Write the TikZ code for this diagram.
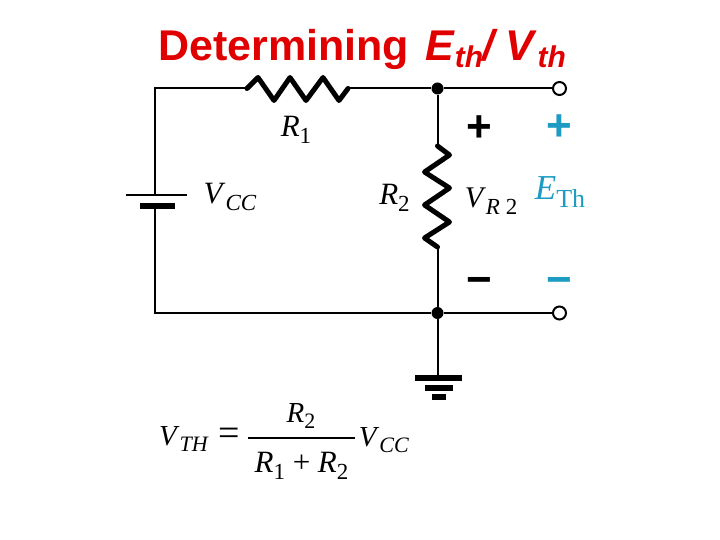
\documentclass[tikz,border=0pt]{standalone}
\usepackage{fontspec}
\usepackage{color}
\setmainfont{Liberation Serif}
\newfontfamily\titlefont{Liberation Sans}
\definecolor{titlered}{RGB}{224,0,0}
\definecolor{thblue}{RGB}{30,155,195}
\newcommand{\sized}[1]{\fontsize{#1}{#1}\selectfont}
\newcommand{\sym}[3]{\sized{#3}\textit{#1}\raisebox{-0.22em}{\sized{\numexpr#3*3/4\relax}#2}}
\tikzset{
 wire/.style={line width=2pt},
 zigzag/.style={line width=5pt,line join=round,line cap=round},
 plate/.style={line width=#1},
 junction/.style={circle,fill=black,inner sep=0pt,minimum size=12pt},
 terminal/.style={circle,draw,fill=white,line width=2pt,inner sep=0pt,minimum size=13pt},
 lbl/.style={inner sep=0pt},
 sign/.style={inner sep=0pt,font=\titlefont\bfseries\sized{44}}
}
\begin{document}
\begin{tikzpicture}[x=1pt,y=-1pt]
 \useasboundingbox (0,0) rectangle (720,540);
 % title
 \node[lbl,text=titlered,anchor=base west] (title) at (158,61) {\titlefont\bfseries\sized{43}Determining\kern4pt{} \textit{E}\raisebox{-0.16em}{\sized{30}\textit{th}}\kern-1pt\textit{/ V}\raisebox{-0.16em}{\sized{30}\textit{th}}};
 % corners and ends of the parts
 \coordinate (tl) at (155,88.5);
 \coordinate (bl) at (155,313);
 \coordinate (batp) at (155,195);
 \coordinate (batn) at (155,206);
 \coordinate (r1a) at (247,88.5);
 \coordinate (r1b) at (348,88.5);
 \coordinate (r2a) at (437.5,146);
 \coordinate (r2b) at (437.5,247);
 \coordinate (gnd) at (437.5,378);
 \coordinate (gnda) at (415,378);
 \coordinate (gndb) at (462,378);
 \coordinate (gndc) at (425,388);
 \coordinate (gndd) at (453,388);
 \coordinate (gnde) at (432,397);
 \coordinate (gndf) at (446,397);
 \coordinate (bata) at (126,195);
 \coordinate (batb) at (187,195);
 \coordinate (batc) at (140,206);
 \coordinate (batd) at (175,206);
 \node[junction] (top) at (437.5,88.5) {};
 \node[junction] (bot) at (437.5,313) {};
 % wires
 \draw[wire] (batp) -- (tl) -- (r1a);
 \draw[wire] (r1b) -- (top);
 \draw[wire] (top) -- (559.5,88.5) coordinate (tae);
 \draw[wire] (top) -- (r2a);
 \draw[wire] (r2b) -- (bot);
 \draw[wire] (batn) -- (bl) -- (bot);
 \draw[wire] (bot) -- (559.5,313) coordinate (tbe);
 \draw[wire] (bot) -- (gnd);
 \node[terminal] (ta) at (tae) {};
 \node[terminal] (tb) at (tbe) {};
 % resistors
 \draw[zigzag] (r1a) -- ++(11,-11) -- ++(16,23) -- ++(16,-23) -- ++(16,23) -- ++(17,-23) -- ++(16,23) -- (r1b);
 \draw[zigzag] (r2a) -- ++(12,9) -- ++(-25,17) -- ++(25,16) -- ++(-25,17) -- ++(25,17) -- ++(-25,16) -- (r2b);
 % battery and ground
 \draw[plate=2pt] (bata) -- (batb);
 \draw[plate=6pt] (batc) -- (batd);
 \draw[plate=6pt] (gnda) -- (gndb);
 \draw[plate=6pt] (gndc) -- (gndd);
 \draw[plate=6pt] (gnde) -- (gndf);
 % labels
 \node[lbl] (r1) at (296,130) {\sym{R}{1}{31}};
 \node[lbl] (vcc) at (230,197) {\sym{V}{\textit{CC}}{31}};
 \node[lbl] (r2) at (394.5,198) {\sym{R}{2}{31}};
 \node[lbl] (vr2) at (491,201) {\sym{V}{\textit{R} 2}{30}};
 \node[lbl,text=thblue] (eth) at (560,192) {\sym{E}{Th}{35}};
 \node[sign] (pa) at (479,129) {+};
 \node[sign,text=thblue] (pb) at (559,128) {+};
 \node[sign] (ma) at (479,286) {\symbol{"2212}};
 \node[sign,text=thblue] (mb) at (559,286) {\symbol{"2212}};
 % formula
 \node[lbl] (vth) at (184,439) {\sym{V}{\textit{TH}}{29}};
 \node[lbl] (eq) at (229,437) {\sized{38}=};
 \coordinate (fa) at (248,438);
 \coordinate (fb) at (355,438);
 \draw[line width=2pt] (fa) -- (fb);
 \node[lbl] (num) at (301,416) {\sym{R}{2}{29}};
 \node[lbl] (den) at (301.5,466) {\sym{R}{1}{31}\sized{31} + \sym{R}{2}{31}};
 \node[lbl] (vcc2) at (384,440) {\sym{V}{\textit{CC}}{29}};
\end{tikzpicture}
\end{document}
